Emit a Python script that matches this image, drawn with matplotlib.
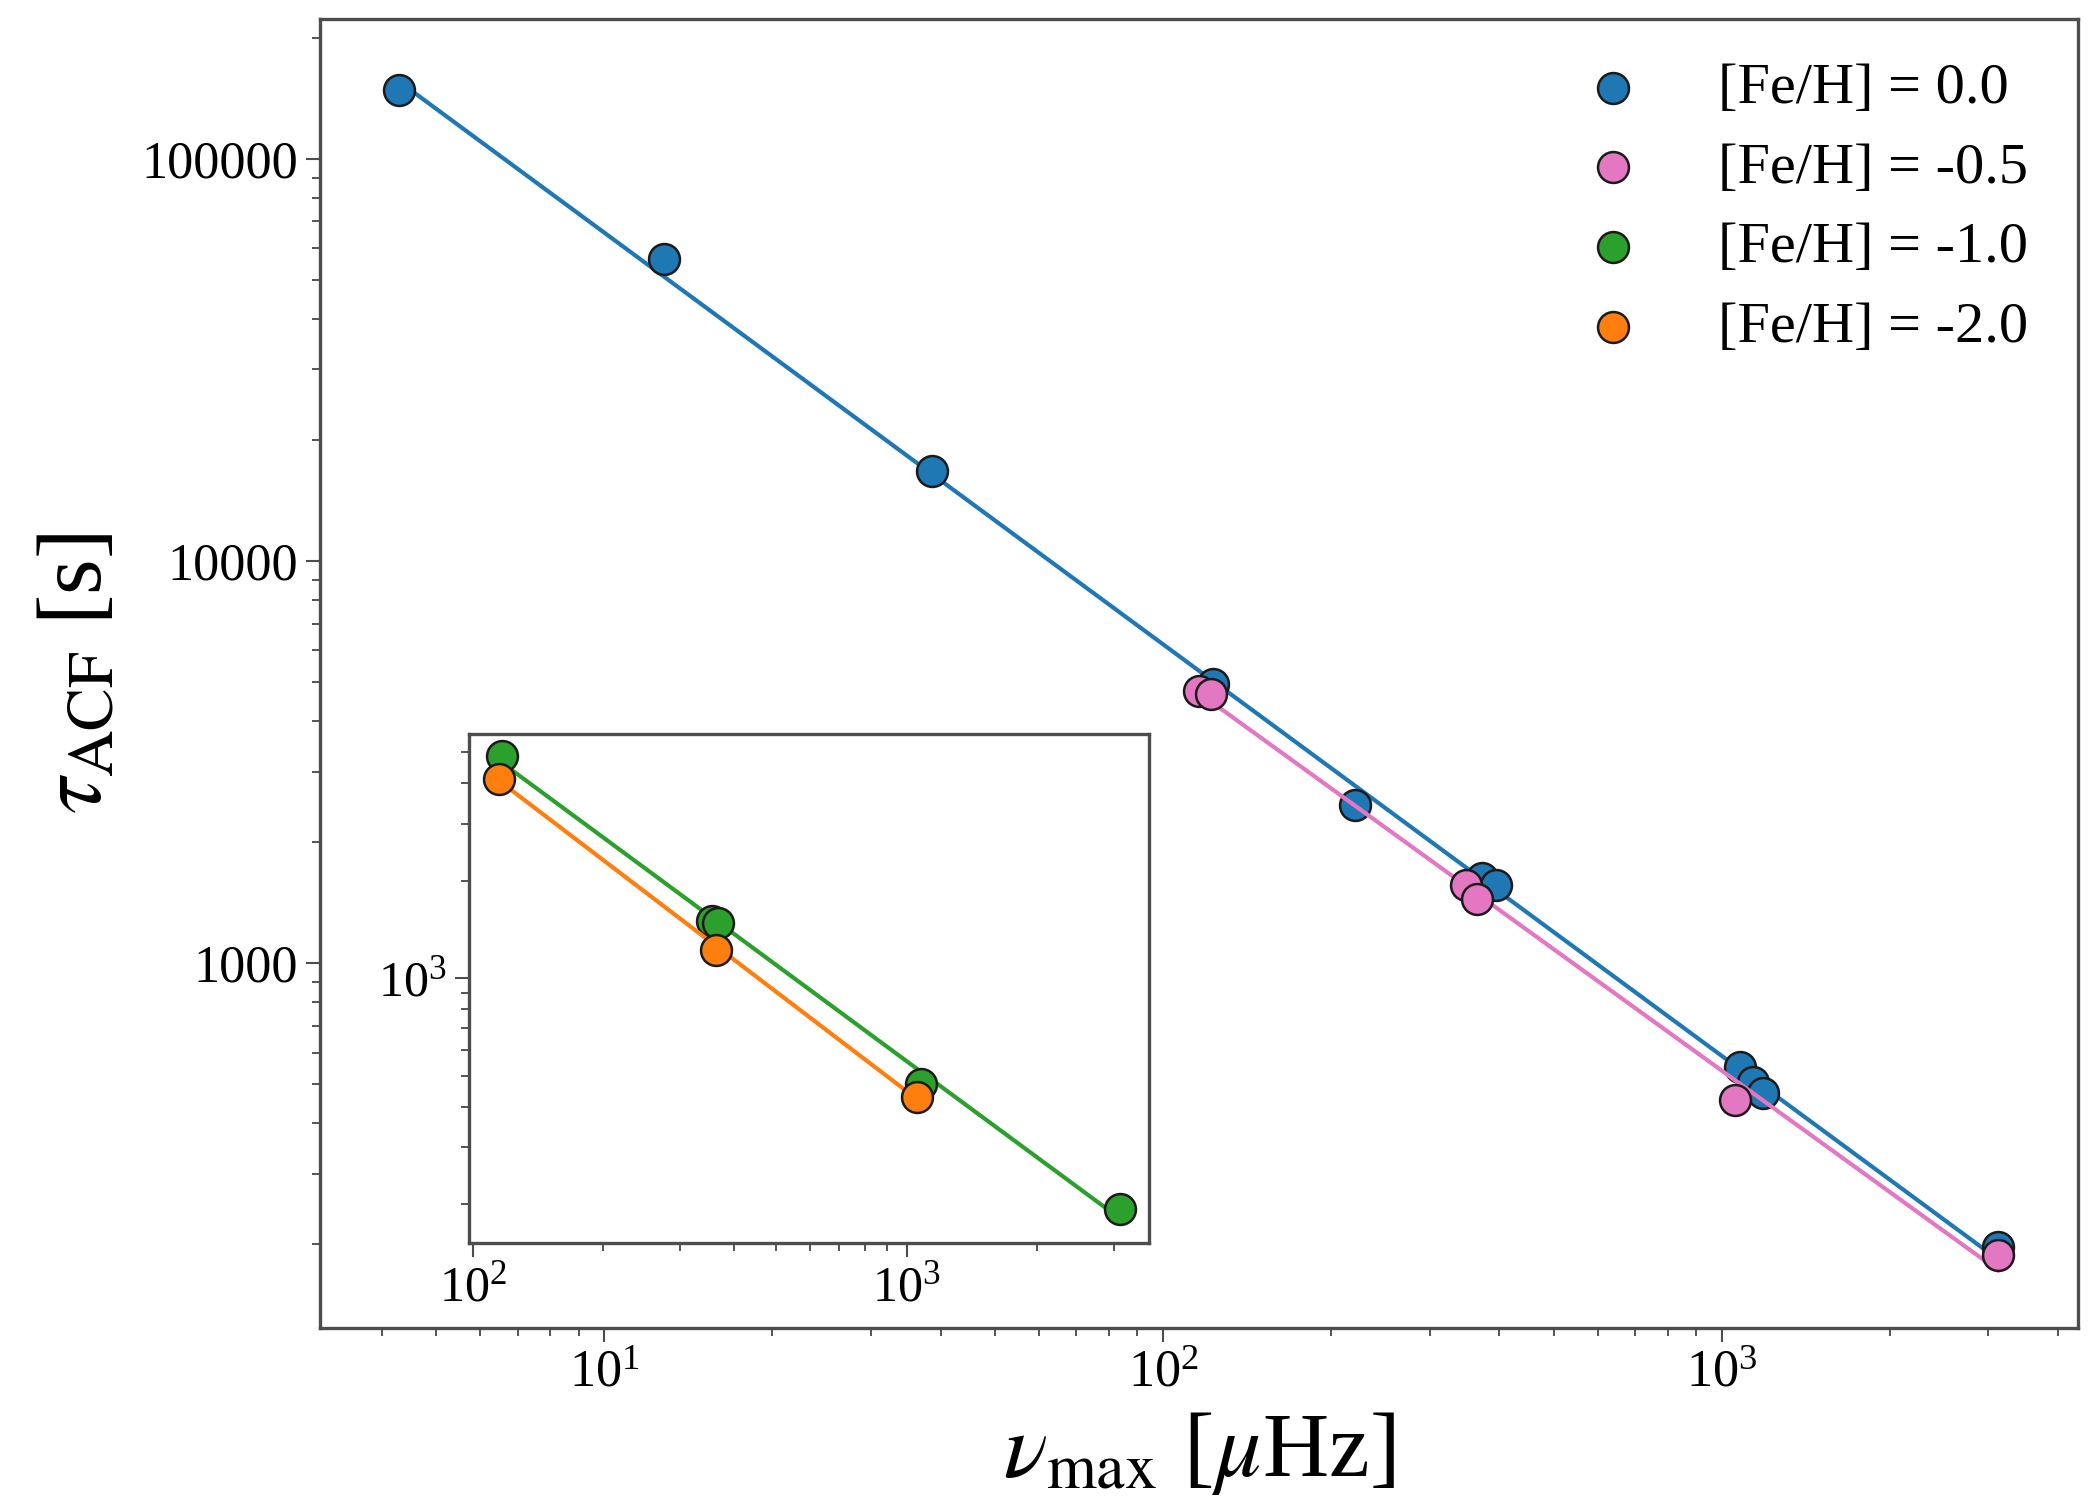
import numpy as np
import matplotlib
matplotlib.use('Agg')
import matplotlib.pyplot as plt
from matplotlib.ticker import FuncFormatter, NullFormatter

plt.rcParams['font.family'] = ['Liberation Serif', 'DejaVu Serif']
plt.rcParams['mathtext.fontset'] = 'stix'

# nu_max [muHz] and tau_ACF [s] for each metallicity track
numax_00 = [4.30, 12.8, 38.6, 123, 221, 372, 394, 1077, 1136, 1183, 3120]
tau_00 = [148400, 56500, 16800, 4950, 2470, 1634, 1563, 552, 507, 476, 197]

numax_05 = [116, 122, 348, 365, 1055, 3120]
tau_05 = [4750, 4680, 1563, 1449, 457, 188]

numax_10 = [116.7, 355, 368, 1077, 3105]
tau_10 = [4850, 1500, 1480, 471, 194]

numax_20 = [115, 364, 1059]
tau_20 = [4120, 1220, 428]

labels = ['[Fe/H] = 0.0', '[Fe/H] = -0.5', '[Fe/H] = -1.0', '[Fe/H] = -2.0']
colors = ['#1f77b4', '#e377c2', '#2ca02c', '#ff7f0e']


def powerlaw_fit(x, y):
    # straight line in log-log space over the range of the data
    x = np.asarray(x, float)
    y = np.asarray(y, float)
    p = np.polyfit(np.log10(x), np.log10(y), 1)
    xx = np.array([x.min(), x.max()])
    return xx, 10 ** np.polyval(p, np.log10(xx))


def style_axis(a, lw=1.6):
    for s in a.spines.values():
        s.set_linewidth(lw)
        s.set_color('#4d4d4d')
    a.tick_params(which='major', length=6.5, width=1.0, color='#4d4d4d', pad=4)
    a.tick_params(which='minor', length=3.8, width=0.9, color='#4d4d4d')


fig = plt.figure(figsize=(2091 / 150, 1501 / 150), dpi=150)
ax = fig.add_axes([0.1530, 0.1153, 0.8408, 0.8720])

handles = []
for x, y, c, z in [(numax_00, tau_00, colors[0], 2), (numax_05, tau_05, colors[1], 4)]:
    xx, yy = powerlaw_fit(x, y)
    ax.plot(xx, yy, color=c, lw=2.0, zorder=z)
    h = ax.scatter(x, y, s=220, color=c, edgecolors='#1a1a1a', linewidths=1.2, zorder=z + 1)
    handles.append(h)

ax.set_xscale('log')
ax.set_yscale('log')
ax.set_xlim(3.1, 4340)
ax.set_ylim(124, 2.23e5)
ax.yaxis.set_major_formatter(FuncFormatter(lambda v, _: f'{int(round(v))}'))
ax.yaxis.set_minor_formatter(NullFormatter())
ax.xaxis.set_minor_formatter(NullFormatter())
ax.tick_params(labelsize=25)
style_axis(ax)

ax.set_xlabel(r'$\nu_{\rm max}$ [$\mu$Hz]', fontsize=44, labelpad=6)
ax.set_ylabel(r'$\tau_{\rm ACF}$ [s]', fontsize=44, labelpad=10)

# inset with the metal-poor tracks
axin = fig.add_axes([0.2243, 0.1719, 0.3252, 0.3391])
for x, y, c, z in [(numax_10, tau_10, colors[2], 2), (numax_20, tau_20, colors[3], 4)]:
    xx, yy = powerlaw_fit(x, y)
    axin.plot(xx, yy, color=c, lw=2.0, zorder=z)
    h = axin.scatter(x, y, s=220, color=c, edgecolors='#1a1a1a', linewidths=1.2, zorder=z + 1)
    handles.append(h)

axin.set_xscale('log')
axin.set_yscale('log')
axin.set_xlim(98, 3620)
axin.set_ylim(152, 5670)
axin.yaxis.set_minor_formatter(NullFormatter())
axin.xaxis.set_minor_formatter(NullFormatter())
axin.tick_params(labelsize=24)
style_axis(axin)

ax.legend(handles, labels, loc='upper right', bbox_to_anchor=(0.985, 0.985),
          borderaxespad=0, frameon=False, fontsize=28, scatterpoints=1,
          handlelength=2.0, handletextpad=0.8, labelspacing=0.46)

fig.savefig('out.png', dpi=150)
